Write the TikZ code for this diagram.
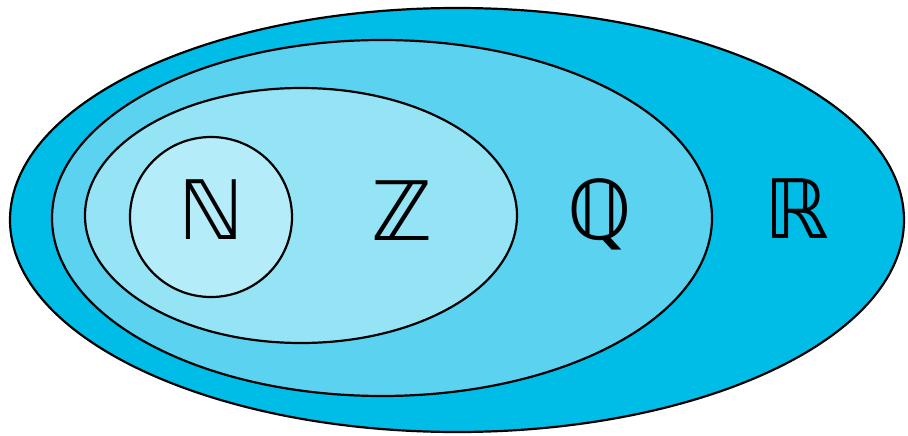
\documentclass[tikz,border=0pt]{standalone}
\usepackage{fontspec}
\newfontfamily\bbfont{DejaVu Sans}
\definecolor{cR}{HTML}{00BDE8}
\definecolor{cQ}{HTML}{5BD2F0}
\definecolor{cZ}{HTML}{95E4F6}
\definecolor{cN}{HTML}{B5ECF9}
\begin{document}
\begin{tikzpicture}[x=1pt,y=-1pt,
  setline/.style={draw=black,line width=2.2pt},
  lbl/.style={font=\bbfont\fontsize{82}{82}\selectfont,inner sep=0pt}]
\useasboundingbox (0,0) rectangle (908,436);
\path[setline,fill=cR] (457,220) ellipse [x radius=447,y radius=212];
\path[setline,fill=cQ] (382,218) ellipse [x radius=330,y radius=178];
\path[setline,fill=cZ] (301,215.5) ellipse [x radius=216,y radius=127.5];
\path[setline,fill=cN] (211,217) ellipse [x radius=81,y radius=80];
\node[lbl] (N) at (211,210) {ℕ};
\node[lbl] (Z) at (402,211) {ℤ};
\node[lbl] (Q) at (600,214) {ℚ};
\node[lbl] (R) at (797,209) {ℝ};
\end{tikzpicture}
\end{document}
